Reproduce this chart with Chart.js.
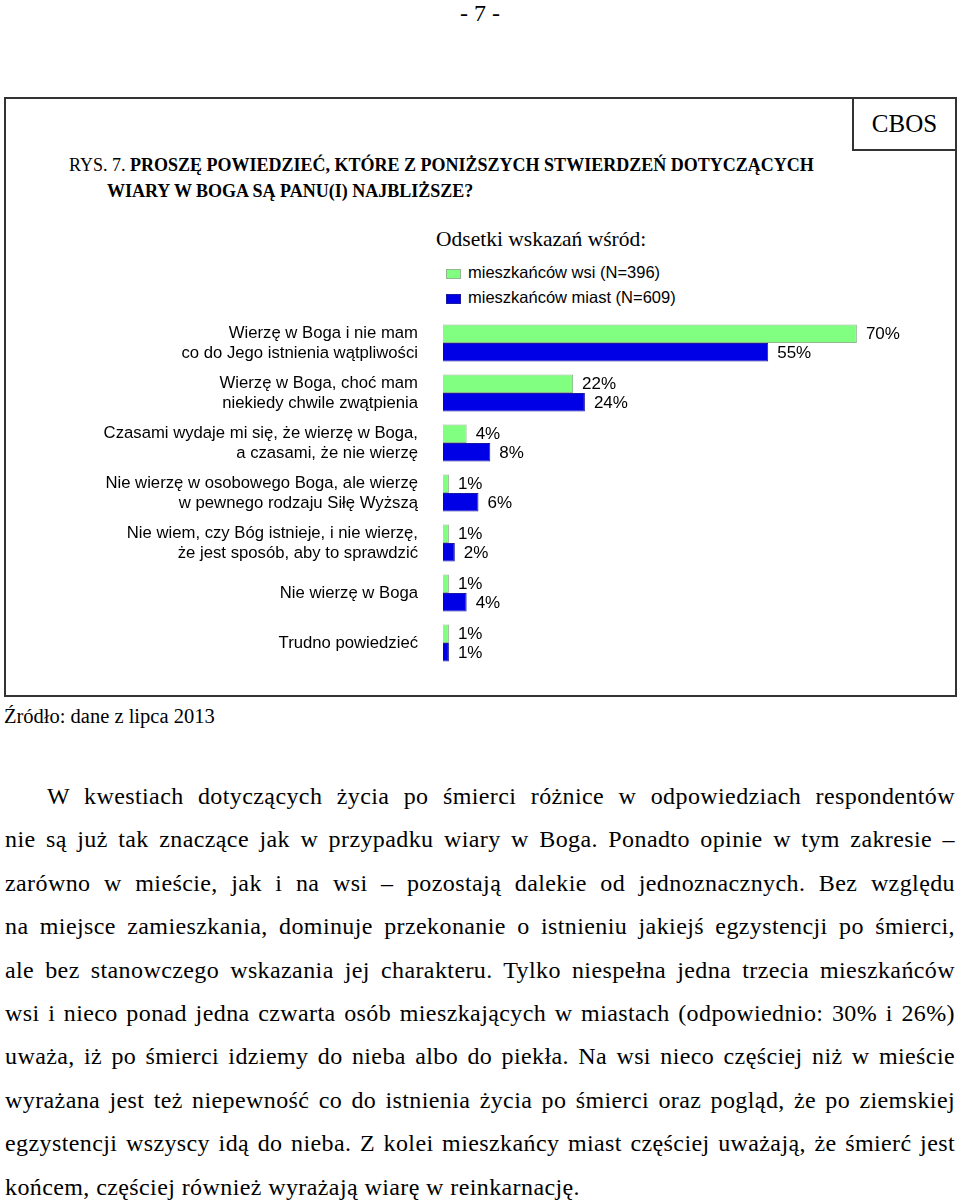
<!DOCTYPE html>
<html lang="pl">
<head>
<meta charset="utf-8">
<script src="https://cdn.jsdelivr.net/npm/chart.js@4.4.0/dist/chart.umd.min.js"></script>
<style>
  body { margin: 0; width: 960px; height: 1202px; background: #fff; position: relative; overflow: hidden;
         font-family: "Liberation Serif", "Times New Roman", serif; color: #000; }
  .abs { position: absolute; }
  #pageNo { left: 0; top: 0; width: 960px; text-align: center; font-size: 24px; line-height: 26px; }
  #box { left: 4px; top: 97px; width: 953px; height: 600px; border: 2px solid #333; box-sizing: border-box; }
  #cbos { left: 852px; top: 97px; width: 105px; height: 54px; border: 2px solid #333; box-sizing: border-box;
          font-size: 25px; text-align: center; line-height: 50px; }
  .title { font-size: 18px; line-height: 22px; white-space: nowrap; }
  #sub { left: 436px; top: 227px; font-size: 21.5px; line-height: 24px; white-space: nowrap; }
  #legend { left: 446px; top: 262px; font-family: "Liberation Sans", Arial, sans-serif; font-size: 16.5px; }
  .item { height: 25px; line-height: 20px; white-space: nowrap; }
  .sw { display: inline-block; width: 15px; height: 10px; margin-right: 7px; vertical-align: -1px; box-sizing: border-box; }
  #chartBox { left: 0; top: 310px; width: 960px; height: 370px; }
  #source { left: 4px; top: 704px; font-size: 20.5px; line-height: 24px; white-space: nowrap; }
  #text { left: 5px; top: 775px; width: 950px; font-size: 24px; letter-spacing: 0.4px; }
  .ln { height: 43.4px; line-height: 43.4px; text-align: justify; text-align-last: justify; white-space: nowrap; }
  .ln.last { text-align-last: left; }
</style>
</head>
<body>
<div id="pageNo" class="abs">- 7 -</div>
<div id="box" class="abs"></div>
<div id="cbos" class="abs">CBOS</div>
<div class="abs title" style="left:69px; top:154px;">RYS. 7. <b>PROSZĘ POWIEDZIEĆ, KTÓRE Z PONIŻSZYCH STWIERDZEŃ DOTYCZĄCYCH</b></div>
<div class="abs title" style="left:107px; top:180px;"><b>WIARY W BOGA SĄ PANU(I) NAJBLIŻSZE?</b></div>
<div id="sub" class="abs">Odsetki wskazań wśród:</div>
<div id="legend" class="abs"></div>
<div id="chartBox" class="abs"><canvas id="chart"></canvas></div>
<div id="source" class="abs">Źródło: dane z lipca 2013</div>
<div id="text" class="abs">
  <div class="ln" style="padding-left:42px;">W kwestiach dotyczących życia po śmierci różnice w odpowiedziach respondentów</div>
  <div class="ln">nie są już tak znaczące jak w przypadku wiary w Boga. Ponadto opinie w tym zakresie –</div>
  <div class="ln">zarówno w mieście, jak i na wsi – pozostają dalekie od jednoznacznych. Bez względu</div>
  <div class="ln">na miejsce zamieszkania, dominuje przekonanie o istnieniu jakiejś egzystencji po śmierci,</div>
  <div class="ln">ale bez stanowczego wskazania jej charakteru. Tylko niespełna jedna trzecia mieszkańców</div>
  <div class="ln">wsi i nieco ponad jedna czwarta osób mieszkających w miastach (odpowiednio: 30% i 26%)</div>
  <div class="ln">uważa, iż po śmierci idziemy do nieba albo do piekła. Na wsi nieco częściej niż w mieście</div>
  <div class="ln">wyrażana jest też niepewność co do istnienia życia po śmierci oraz pogląd, że po ziemskiej</div>
  <div class="ln">egzystencji wszyscy idą do nieba. Z kolei mieszkańcy miast częściej uważają, że śmierć jest</div>
  <div class="ln last">końcem, częściej również wyrażają wiarę w reinkarnację.</div>
</div>
<script>
const categories = [
  ["Wierzę w Boga i nie mam", "co do Jego istnienia wątpliwości"],
  ["Wierzę w Boga, choć mam", "niekiedy chwile zwątpienia"],
  ["Czasami wydaje mi się, że wierzę w Boga,", "a czasami, że nie wierzę"],
  ["Nie wierzę w osobowego Boga, ale wierzę", "w pewnego rodzaju Siłę Wyższą"],
  ["Nie wiem, czy Bóg istnieje, i nie wierzę,", "że jest sposób, aby to sprawdzić"],
  "Nie wierzę w Boga",
  "Trudno powiedzieć"
];
const seriesNames = ["mieszkańców wsi (N=396)", "mieszkańców miast (N=609)"];
const ruralValues = [70, 22, 4, 1, 1, 1, 1];
const urbanValues = [55, 24, 8, 6, 2, 4, 1];
const seriesColors = ["#80ff80", "#0000e6"];
const seriesBorders = ["#8fb88f", "#1a1aa0"];

// legend built by hand, sits above the plot like in the original
const legend = document.getElementById("legend");
seriesNames.forEach((name, i) => {
  const row = document.createElement("div");
  row.className = "item";
  row.innerHTML = '<span class="sw" style="background:' + seriesColors[i] + ';border:1px solid ' + seriesBorders[i] + '"></span>' + name;
  legend.appendChild(row);
});

const valueLabels = {
  id: "valueLabels",
  afterDatasetsDraw(chart) {
    const ctx = chart.ctx;
    ctx.save();
    ctx.font = '17px "Liberation Sans", Arial, sans-serif';
    ctx.fillStyle = "#000";
    ctx.textBaseline = "middle";
    ctx.textAlign = "left";
    chart.data.datasets.forEach((ds, i) => {
      chart.getDatasetMeta(i).data.forEach((bar, j) => {
        ctx.fillText(ds.data[j] + "%", bar.x + 9, bar.y + 1);
      });
    });
    ctx.restore();
  }
};

new Chart(document.getElementById("chart"), {
  type: "bar",
  data: {
    labels: categories,
    datasets: [
      { label: seriesNames[0], data: ruralValues, backgroundColor: seriesColors[0], borderColor: seriesBorders[0], borderWidth: 1 },
      { label: seriesNames[1], data: urbanValues, backgroundColor: seriesColors[1], borderColor: seriesBorders[1], borderWidth: 1 }
    ]
  },
  options: {
    indexAxis: "y",
    responsive: true,
    maintainAspectRatio: false,
    animation: false,
    categoryPercentage: 0.74,
    barPercentage: 1,
    layout: { padding: { left: 0, right: 44, top: 8, bottom: 12 } },
    plugins: { legend: { display: false }, tooltip: { enabled: false } },
    scales: {
      x: { display: false, min: 0, max: 80 },
      y: {
        grid: { display: false, drawTicks: false },
        border: { display: false },
        ticks: {
          color: "#000",
          padding: 25,
          font: { family: '"Liberation Sans", Arial, sans-serif', size: 16.7, lineHeight: 1.2 }
        },
        afterFit(scale) {
          scale.width = 443;
          scale.paddingTop = 0;
          scale.paddingBottom = 0;
        }
      }
    }
  },
  plugins: [valueLabels]
});
</script>
</body>
</html>
